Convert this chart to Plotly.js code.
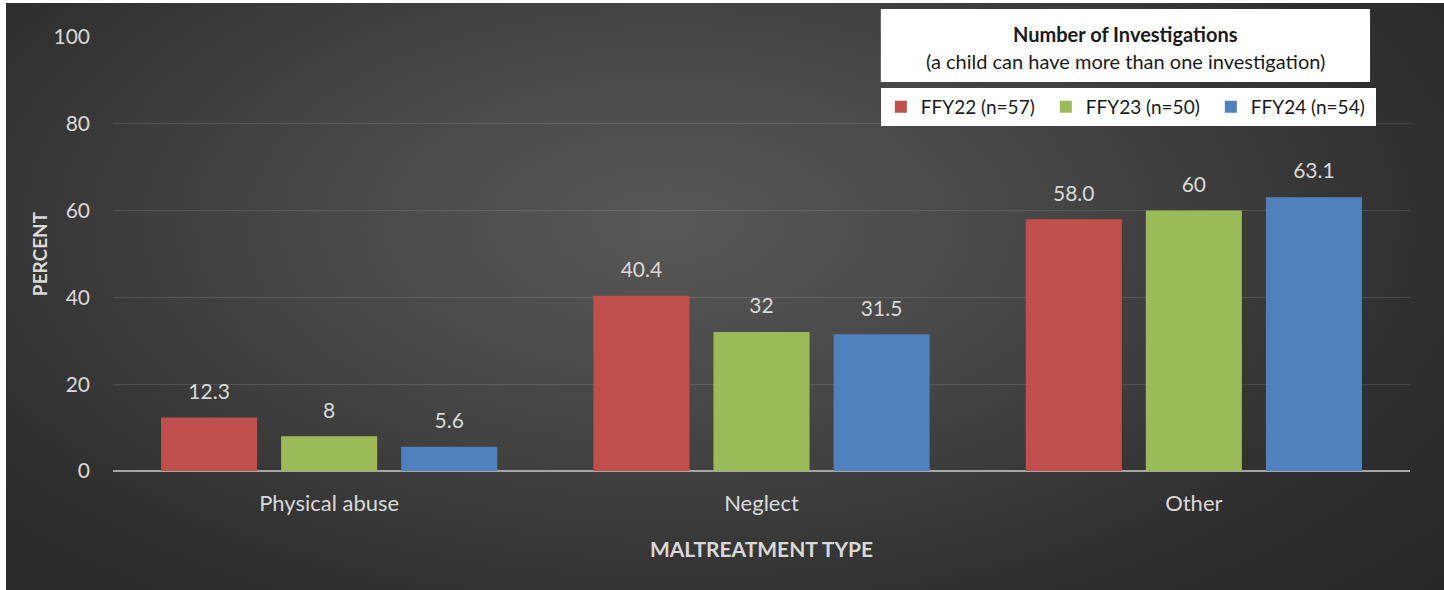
<!DOCTYPE html>
<html>
<head>
<meta charset="utf-8">
<script src="https://cdn.plot.ly/plotly-3.0.1.min.js"></script>
<style>
  html, body { margin: 0; padding: 0; background: #ffffff; }
  #frame {
    position: absolute; left: 6px; top: 3px; width: 1438px; height: 587px;
    background: radial-gradient(ellipse 75% 95% at 46% 38%, #585858 0%, #464646 35%, #303030 70%, #262626 100%);
  }
  #chart { position: absolute; left: 0; top: 0; width: 1444px; height: 590px; }
</style>
</head>
<body>
<div id="frame"></div>
<div id="chart"></div>
<script>
// Maltreatment type categories
const categories = ['Physical abuse', 'Neglect', 'Other'];

// Percent of investigations per fiscal year
const ffy22 = [12.3, 40.4, 58.0];
const ffy23 = [8, 32, 60];
const ffy24 = [5.6, 31.5, 63.1];

// Data labels as printed above each bar
const labels22 = ['12.3', '40.4', '58.0'];
const labels23 = ['8', '32', '60'];
const labels24 = ['5.6', '31.5', '63.1'];

const seriesNames = ['FFY22 (n=57)', 'FFY23 (n=50)', 'FFY24 (n=54)'];
const seriesColors = ['#C0504D', '#9BBB59', '#4F81BD'];
const yTicks = [0, 20, 40, 60, 80, 100];

const FONT = 'Lato, "Open Sans", sans-serif';
const series = [[ffy22, labels22], [ffy23, labels23], [ffy24, labels24]];

const traces = [];
series.forEach(([vals, labs], i) => {
  traces.push({
    type: 'bar',
    name: seriesNames[i],
    x: categories,
    y: vals,
    offsetgroup: 'g' + i,
    marker: { color: seriesColors[i] },
    hoverinfo: 'x+y+name'
  });
});
// Value labels, grouped to sit over their bars
series.forEach(([vals, labs], i) => {
  traces.push({
    type: 'scatter',
    mode: 'markers+text',
    x: categories,
    y: vals,
    text: labs,
    offsetgroup: 'g' + i,
    textposition: 'top center',
    textfont: { family: FONT, size: 21, color: '#d9d9d9' },
    marker: { size: 20, opacity: 0 },
    showlegend: false,
    hoverinfo: 'skip',
    cliponaxis: false
  });
});

const layout = {
  width: 1444,
  height: 590,
  margin: { l: 113, r: 34, t: 37, b: 119, autoexpand: false },
  paper_bgcolor: 'rgba(0,0,0,0)',
  plot_bgcolor: 'rgba(0,0,0,0)',
  font: { family: FONT, color: '#d9d9d9', size: 20 },
  barmode: 'group',
  bargap: 0.1667,
  bargroupgap: 0.2,
  scattermode: 'group',
  scattergap: 0.1667,
  xaxis: {
    type: 'category',
    showgrid: false,
    showline: false,
    ticks: '',
    ticklabelstandoff: 17,
    tickfont: { family: FONT, size: 22, color: '#d9d9d9' },
    title: {
      text: '<b>MALTREATMENT TYPE</b>',
      font: { family: FONT, size: 21, color: '#d9d9d9' },
      standoff: 27
    }
  },
  yaxis: {
    range: [0, 100],
    tickvals: yTicks,
    showgrid: true,
    gridcolor: 'rgba(255,255,255,0.12)',
    gridwidth: 1,
    zeroline: true,
    zerolinecolor: '#a6a6a6',
    zerolinewidth: 2,
    showline: false,
    ticks: '',
    ticklabelstandoff: 22,
    tickfont: { family: FONT, size: 21, color: '#d9d9d9' },
    title: {
      text: '<b>PERCENT</b>',
      font: { family: FONT, size: 19, color: '#d9d9d9' },
      standoff: 0
    }
  },
  legend: {
    orientation: 'h',
    x: 0.592,
    xanchor: 'left',
    y: 0.8825,
    yanchor: 'top',
    bgcolor: '#ffffff',
    borderwidth: 0,
    entrywidth: 120,
    font: { family: FONT, size: 19, color: '#1a1a1a' }
  },
  // White panel behind the legend heading
  shapes: [{
    type: 'rect',
    xref: 'paper', yref: 'paper',
    x0: 0.592, x1: 0.9692,
    y0: 0.8963, y1: 1.0645,
    fillcolor: '#ffffff',
    line: { width: 0 },
    layer: 'above'
  }],
  annotations: [{
    xref: 'paper', yref: 'paper',
    x: 0.7807, xanchor: 'center',
    y: 1.0069, yanchor: 'middle',
    showarrow: false,
    font: { family: FONT, size: 20, color: '#1a1a1a' },
    text: '<b>Number of Investigations</b>'
  }, {
    xref: 'paper', yref: 'paper',
    x: 0.7807, xanchor: 'center',
    y: 0.9447, yanchor: 'middle',
    showarrow: false,
    font: { family: FONT, size: 20, color: '#1a1a1a' },
    text: '(a child can have more than one investigation)'
  }]
};

Plotly.newPlot('chart', traces, layout, { displayModeBar: false, staticPlot: true });
</script>
</body>
</html>
